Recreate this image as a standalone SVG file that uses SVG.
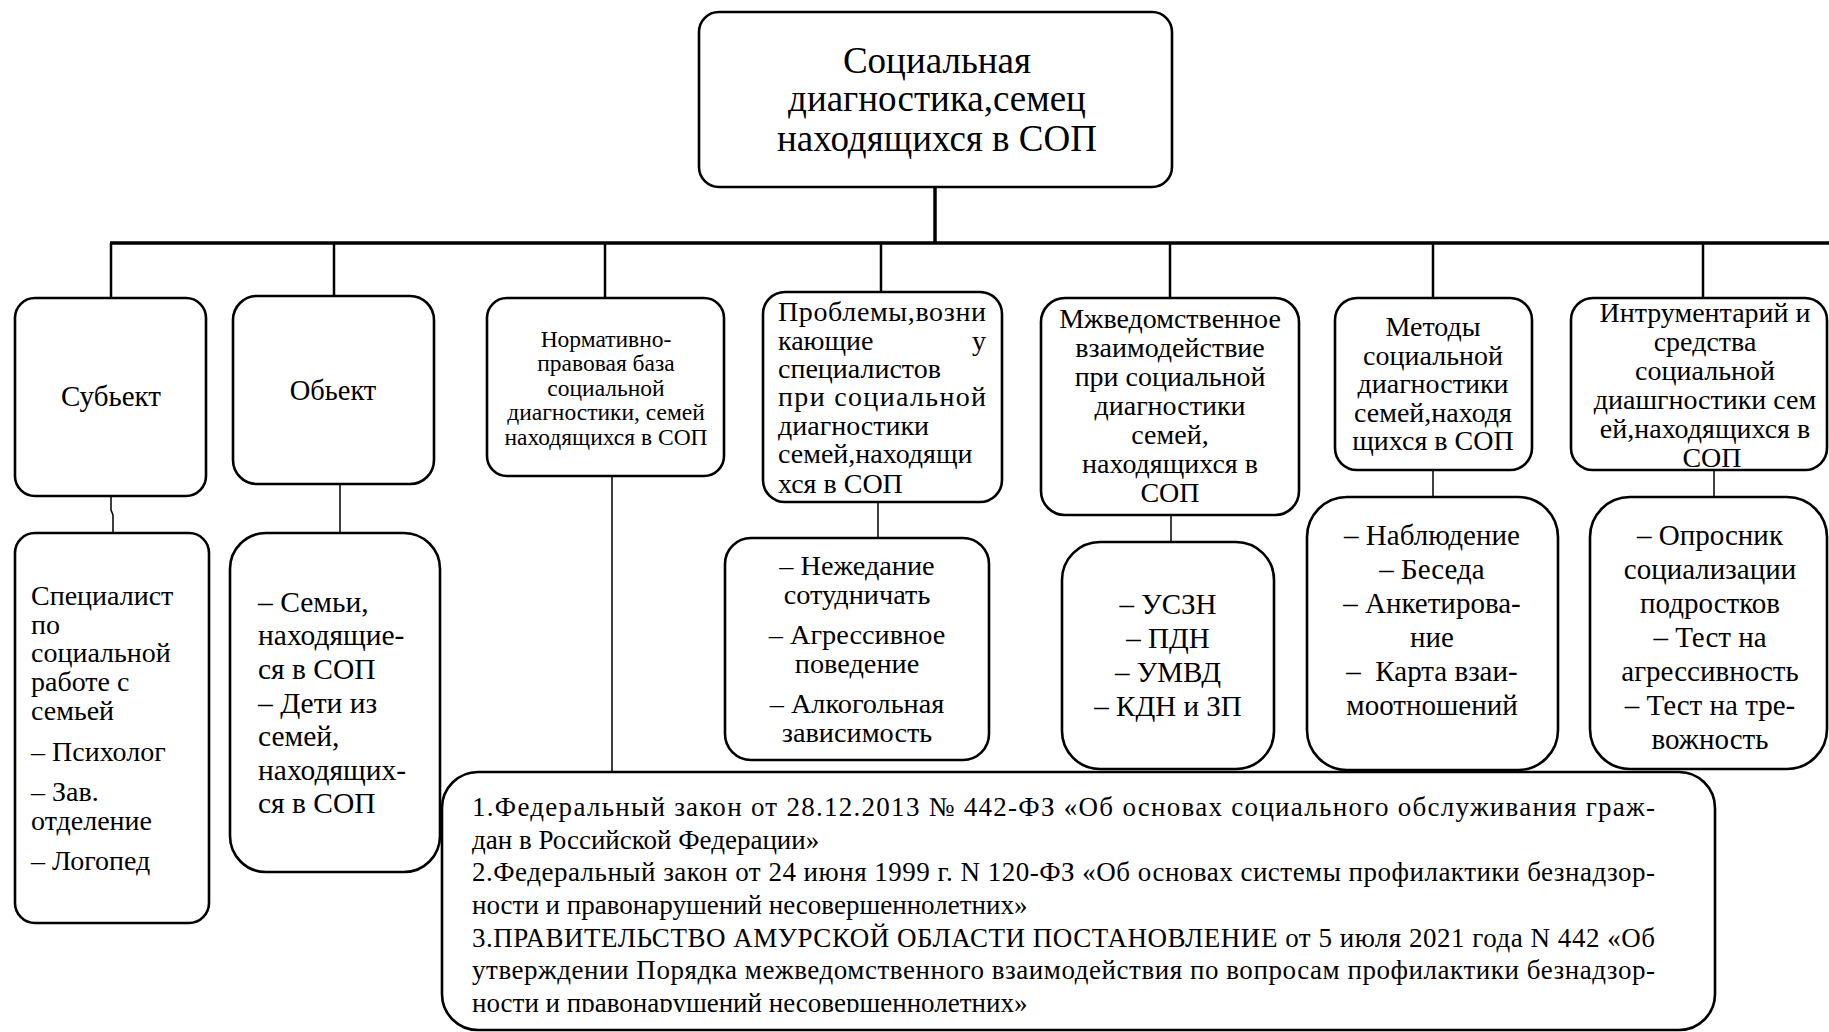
<svg xmlns="http://www.w3.org/2000/svg" width="1829" height="1032" viewBox="0 0 1829 1032">
<style>
.box{fill:#fff;stroke:#000;stroke-width:2.6}
text{font-family:"Liberation Serif","Times New Roman",serif;fill:#000}
.c{text-anchor:middle}
.bus{stroke:#000;stroke-width:3.5;fill:none}
.drop{stroke:#000;stroke-width:2.5;fill:none}
.thin{stroke:#000;stroke-width:1.5;fill:none}
.f27{font-size:27px}
.f28{font-size:28px}
.f29{font-size:29px}
</style>
<defs>
<clipPath id="legalclip"><rect x="442" y="772" width="1273" height="240"/></clipPath>
</defs>
<rect width="1829" height="1032" fill="#fff"/>
<g id="connectors">
<line class="bus" x1="935" y1="187" x2="935" y2="243"/>
<line class="bus" x1="110" y1="243" x2="1829" y2="243"/>
<line class="drop" x1="111" y1="243" x2="111" y2="298"/>
<line class="drop" x1="334" y1="243" x2="334" y2="296"/>
<line class="drop" x1="605" y1="243" x2="605" y2="298"/>
<line class="drop" x1="881" y1="243" x2="881" y2="292"/>
<line class="drop" x1="1170" y1="243" x2="1170" y2="298"/>
<line class="drop" x1="1433" y1="243" x2="1433" y2="298"/>
<line class="drop" x1="1703" y1="243" x2="1703" y2="298"/>
<polyline class="thin" points="111,496 111,510 113,515 113,533"/>
<line class="thin" x1="340" y1="484" x2="340" y2="533"/>
<line class="thin" x1="612" y1="476" x2="612" y2="772"/>
<line class="thin" x1="878" y1="502" x2="878" y2="538"/>
<line class="thin" x1="1171" y1="515" x2="1171" y2="542"/>
<line class="thin" x1="1433" y1="470" x2="1433" y2="497"/>
<line class="thin" x1="1714" y1="458" x2="1714" y2="497"/>
</g>
<g id="title">
<rect class="box" x="699" y="12" width="473" height="175" rx="20"/>
<text class="c" x="937" y="73" font-size="37">Социальная</text>
<text class="c" x="937" y="111" font-size="37">диагностика,семец</text>
<text class="c" x="937" y="151" font-size="37">находящихся в СОП</text>
</g>
<g id="subject">
<rect class="box" x="15" y="298" width="191" height="198" rx="20"/>
<text class="c" x="111" y="406" font-size="29">Субьект</text>
</g>
<g id="object">
<rect class="box" x="233" y="296" width="201" height="188" rx="24"/>
<text class="c" x="333" y="400" font-size="28.5">Обьект</text>
</g>
<g id="norm">
<rect class="box" x="487" y="298" width="237" height="178" rx="20"/>
<g font-size="23.5" class="c">
<text x="606" y="346.5">Нормативно-</text>
<text x="606" y="371">правовая база</text>
<text x="606" y="395.5">социальной</text>
<text x="606" y="420">диагностики, семей</text>
<text x="606" y="444.5">находящихся в СОП</text>
</g>
</g>
<g id="problems">
<rect class="box" x="763" y="292" width="239" height="210" rx="22"/>
<g class="f28">
<text x="778" y="321" textLength="208" lengthAdjust="spacing">Проблемы,возни</text>
<text x="778" y="350">кающие</text>
<text x="986" y="350" text-anchor="end">у</text>
<text x="778" y="378">специалистов</text>
<text x="778" y="406" textLength="208" lengthAdjust="spacing">при  социальной</text>
<text x="778" y="435">диагностики</text>
<text x="778" y="463">семей,находящи</text>
<text x="778" y="493">хся в СОП</text>
</g>
</g>
<g id="interagency">
<rect class="box" x="1041" y="298" width="258" height="217" rx="24"/>
<g class="f28 c">
<text x="1170" y="328">Мжведомственное</text>
<text x="1170" y="357">взаимодействие</text>
<text x="1170" y="386">при социальной</text>
<text x="1170" y="415">диагностики</text>
<text x="1170" y="444">семей,</text>
<text x="1170" y="473">находящихся в</text>
<text x="1170" y="502">СОП</text>
</g>
</g>
<g id="methods">
<rect class="box" x="1335" y="298" width="197" height="172" rx="22"/>
<g class="f28 c">
<text x="1433" y="336">Методы</text>
<text x="1433" y="364.5">социальной</text>
<text x="1433" y="393">диагностики</text>
<text x="1433" y="421.5">семей,находя</text>
<text x="1433" y="450">щихся в СОП</text>
</g>
</g>
<g id="tools">
<rect class="box" x="1571" y="298" width="256" height="172" rx="22"/>
<g class="f28 c">
<text x="1705" y="322">Интрументарий и</text>
<text x="1705" y="351">средства</text>
<text x="1705" y="380">социальной</text>
<text x="1705" y="409">диашгностики сем</text>
<text x="1705" y="438">ей,находящихся в</text>
<text x="1712" y="467">СОП</text>
</g>
</g>
<g id="subject-list">
<rect class="box" x="15" y="533" width="194" height="390" rx="20"/>
<g class="f28">
<text x="31" y="605">Специалист</text>
<text x="31" y="634">по</text>
<text x="31" y="662">социальной</text>
<text x="31" y="691">работе с</text>
<text x="31" y="720">семьей</text>
<text x="31" y="761">– Психолог</text>
<text x="31" y="801">– Зав.</text>
<text x="31" y="830">отделение</text>
<text x="31" y="870">– Логопед</text>
</g>
</g>
<g id="object-list">
<rect class="box" x="230" y="533" width="210" height="339" rx="36"/>
<g font-size="29.5">
<text x="258" y="612">– Семьи,</text>
<text x="258" y="645">находящие-</text>
<text x="258" y="679">ся в СОП</text>
<text x="258" y="713">– Дети из</text>
<text x="258" y="746">семей,</text>
<text x="258" y="780">находящих-</text>
<text x="258" y="813">ся в СОП</text>
</g>
</g>
<g id="problems-list">
<rect class="box" x="725" y="538" width="264" height="222" rx="26"/>
<g font-size="28.3" class="c">
<text x="857" y="575">– Нежедание</text>
<text x="857" y="604">сотудничать</text>
<text x="857" y="644">– Агрессивное</text>
<text x="857" y="673">поведение</text>
<text x="857" y="713">– Алкогольная</text>
<text x="857" y="742">зависимость</text>
</g>
</g>
<g id="interagency-list">
<rect class="box" x="1062" y="542" width="212" height="227" rx="38"/>
<g class="f29 c">
<text x="1168" y="614">– УСЗН</text>
<text x="1168" y="648">– ПДН</text>
<text x="1168" y="682">– УМВД</text>
<text x="1168" y="716">– КДН и ЗП</text>
</g>
</g>
<g id="methods-list">
<rect class="box" x="1307" y="497" width="251" height="273" rx="40"/>
<g class="f29 c">
<text x="1432" y="545">– Наблюдение</text>
<text x="1432" y="579">– Беседа</text>
<text x="1432" y="613">– Анкетирова-</text>
<text x="1432" y="647">ние</text>
<text x="1432" y="681" xml:space="preserve">–  Карта взаи-</text>
<text x="1432" y="715">моотношений</text>
</g>
</g>
<g id="tools-list">
<rect class="box" x="1590" y="497" width="237" height="272" rx="40"/>
<g class="f29 c">
<text x="1710" y="545">– Опросник</text>
<text x="1710" y="579">социализации</text>
<text x="1710" y="613">подростков</text>
<text x="1710" y="647">– Тест на</text>
<text x="1710" y="681">агрессивность</text>
<text x="1710" y="715">– Тест на тре-</text>
<text x="1710" y="749">вожность</text>
</g>
</g>
<g id="legal">
<rect class="box" x="442" y="772" width="1273" height="258" rx="36"/>
<g class="f27" clip-path="url(#legalclip)">
<text x="472" y="816" textLength="1183" lengthAdjust="spacing">1.Федеральный закон от 28.12.2013 № 442-ФЗ «Об основах социального обслуживания граж-</text>
<text x="472" y="849">дан в Российской Федерации»</text>
<text x="472" y="881" textLength="1183" lengthAdjust="spacing">2.Федеральный закон от 24 июня 1999 г. N 120-ФЗ «Об основах системы профилактики безнадзор-</text>
<text x="472" y="914">ности и правонарушений несовершеннолетних»</text>
<text x="472" y="947" textLength="1183" lengthAdjust="spacing">3.ПРАВИТЕЛЬСТВО АМУРСКОЙ ОБЛАСТИ ПОСТАНОВЛЕНИЕ от 5 июля 2021 года N 442 «Об</text>
<text x="472" y="979" textLength="1183" lengthAdjust="spacing">утверждении Порядка межведомственного взаимодействия по вопросам профилактики безнадзор-</text>
<text x="472" y="1012">ности и правонарушений несовершеннолетних»</text>
</g>
</g>
</svg>
